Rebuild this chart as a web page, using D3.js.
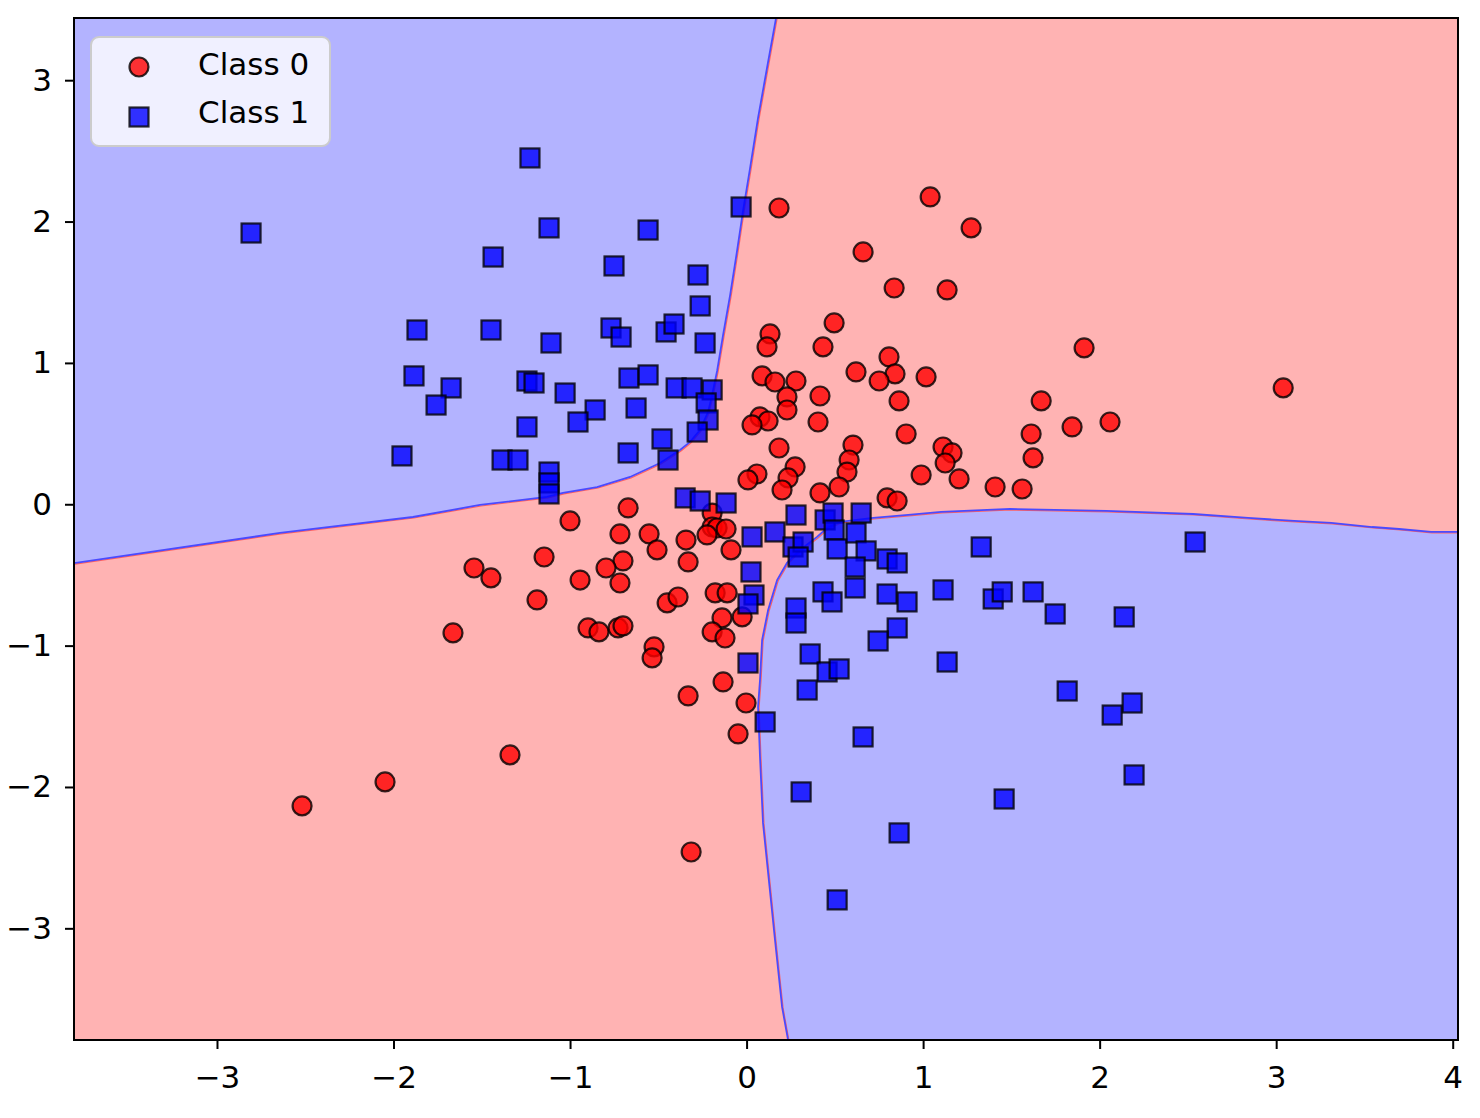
<!DOCTYPE html>
<html>
<head>
<meta charset="utf-8">
<script src="https://cdn.jsdelivr.net/npm/d3@7"></script>
<style>
  html, body { margin: 0; padding: 0; background: #ffffff; }
  svg { display: block; }
  text { font-family: "DejaVu Sans", sans-serif; }
</style>
</head>
<body>
<svg id="chart" width="1480" height="1118"></svg>
<script>
// ---------------- data ----------------
const classLabels = ["Class 0", "Class 1"];
const xTicks = [-3, -2, -1, 0, 1, 2, 3, 4];
const yTicks = [-3, -2, -1, 0, 1, 2, 3];
const xDomain = [-3.81, 4.03];
const yDomain = [-3.79, 3.44];

// Class 0 (circles)
const class0X = [0.184,1.040,1.272,0.660,0.836,1.136,0.133,0.116,0.496,0.433,1.912,0.088,0.161,0.280,0.229,0.229,0.416,0.620,0.807,0.841,0.751,1.017,0.864,3.040,1.669,1.844,2.059,1.612,0.904,0.076,0.122,0.031,0.405,0.184,0.603,0.581,0.569,0.524,0.275,0.235,0.201,0.059,0.008,0.416,0.796,0.853,1.113,1.164,1.125,0.989,1.204,1.408,1.561,1.623,
  -0.671,-1.000,-0.717,-0.552,-0.507,-1.147,-0.700,-0.796,-0.717,-1.544,-1.448,-0.943,-1.187,-0.450,-0.388,-0.898,-0.836,-0.728,-0.700,-0.524,-0.535,-1.663,-1.340,-2.048,-2.518,-0.314,-0.343,-0.331,-0.195,-0.195,-0.167,-0.116,-0.224,-0.088,-0.178,-0.110,-0.139,-0.025,-0.195,-0.122,-0.133,-0.331,-0.003,-0.048];
const class0Y = [2.096,2.174,1.955,1.785,1.530,1.516,1.205,1.113,1.283,1.113,1.106,0.908,0.865,0.872,0.759,0.667,0.766,0.936,1.042,0.922,0.872,0.901,0.731,0.823,0.731,0.547,0.582,0.497,0.497,0.618,0.589,0.561,0.582,0.398,0.419,0.313,0.228,0.122,0.264,0.186,0.101,0.214,0.172,0.080,0.045,0.023,0.405,0.363,0.292,0.207,0.179,0.122,0.108,0.328,
  -0.026,-0.118,-0.210,-0.210,-0.323,-0.373,-0.401,-0.451,-0.557,-0.451,-0.521,-0.536,-0.677,-0.698,-0.656,-0.875,-0.903,-0.875,-0.861,-1.009,-1.087,-0.910,-1.773,-1.964,-2.134,-2.460,-0.253,-0.408,-0.062,-0.161,-0.168,-0.175,-0.217,-0.323,-0.627,-0.627,-0.804,-0.797,-0.903,-0.946,-1.257,-1.356,-1.406,-1.625];

// Class 1 (squares)
const class1X = [-1.227,-2.807,-0.031,-1.119,-0.558,-1.436,-0.751,-0.275,-1.867,-1.448,-0.263,-0.768,-0.711,-0.456,-0.411,-1.108,-0.235,-1.884,-1.674,-1.759,-1.244,-1.204,-1.028,-0.858,-0.955,-0.666,-0.558,-0.399,-0.309,-0.195,-0.626,-0.229,-0.218,-1.244,-0.479,-0.280,-1.952,-1.385,-1.295,-1.119,-1.119,-1.119,-0.671,-0.445,-0.348,-0.263,-0.116,
  0.280,0.445,0.490,0.649,0.031,0.161,0.263,0.320,0.292,0.496,0.513,0.620,0.677,0.615,0.615,0.796,0.853,0.025,0.042,0.008,0.433,0.484,0.280,0.280,0.796,0.909,1.113,0.853,0.745,0.360,0.456,0.524,0.343,0.008,1.136,0.105,0.660,0.309,0.864,0.513,2.541,1.329,1.397,1.448,1.623,1.748,2.139,1.816,2.184,2.071,2.195,1.459];
const class1Y = [2.450,1.919,2.103,1.955,1.940,1.749,1.686,1.622,1.233,1.233,1.403,1.247,1.183,1.219,1.275,1.141,1.141,0.908,0.823,0.702,0.872,0.858,0.787,0.667,0.582,0.893,0.915,0.823,0.823,0.809,0.681,0.717,0.596,0.547,0.462,0.511,0.342,0.313,0.313,0.228,0.151,0.073,0.363,0.313,0.045,0.023,0.009,
  -0.076,-0.111,-0.062,-0.062,-0.231,-0.196,-0.302,-0.267,-0.373,-0.182,-0.316,-0.203,-0.330,-0.444,-0.592,-0.387,-0.415,-0.479,-0.642,-0.705,-0.620,-0.691,-0.734,-0.840,-0.635,-0.691,-0.606,-0.875,-0.967,-1.059,-1.186,-1.165,-1.314,-1.123,-1.116,-1.540,-1.646,-2.035,-2.325,-2.799,-0.267,-0.302,-0.670,-0.620,-0.620,-0.776,-0.797,-1.321,-1.406,-1.491,-1.915,-2.085];

// Decision boundary (upper-left blue region edge, top -> left)
const boundaryUpperLeft = [[0.167,3.44],[0.116,3.088],[0.065,2.733],[0.020,2.379],[-0.020,2.075],[-0.054,1.792],[-0.093,1.481],[-0.133,1.198],[-0.167,0.943],[-0.195,0.773],[-0.218,0.653],[-0.263,0.526],[-0.320,0.441],[-0.377,0.384],[-0.490,0.292],[-0.660,0.193],[-0.847,0.122],[-1.040,0.080],[-1.130,0.052],[-1.510,-0.005],[-1.890,-0.090],[-2.643,-0.203],[-3.81,-0.416]];
// lower-right blue region edge, bottom -> right
const boundaryLowerRight = [[0.235,-3.79],[0.201,-3.556],[0.161,-3.082],[0.122,-2.608],[0.093,-2.254],[0.076,-1.787],[0.065,-1.434],[0.076,-1.243],[0.088,-0.960],[0.122,-0.748],[0.173,-0.536],[0.229,-0.415],[0.303,-0.323],[0.399,-0.231],[0.456,-0.168],[0.530,-0.125],[0.717,-0.097],[0.915,-0.075],[1.102,-0.054],[1.493,-0.033],[2.037,-0.047],[2.530,-0.069],[2.841,-0.097],[3.102,-0.118],[3.312,-0.132],[3.544,-0.161],[3.697,-0.175],[3.878,-0.196],[4.03,-0.196]];

// ---------------- drawing ----------------
const plot = { left: 74, right: 1458, top: 18, bottom: 1040 };
const svg = d3.select("#chart");
svg.append("rect").attr("width", 1480).attr("height", 1118).attr("fill", "#ffffff");

const x = d3.scaleLinear().domain(xDomain).range([plot.left, plot.right]);
const y = d3.scaleLinear().domain(yDomain).range([plot.bottom, plot.top]);

const regionColor = ["#ffb3b3", "#b3b3ff"];

svg.append("defs").append("clipPath").attr("id", "plotclip")
  .append("rect").attr("x", plot.left).attr("y", plot.top)
  .attr("width", plot.right - plot.left).attr("height", plot.bottom - plot.top);

const g = svg.append("g").attr("clip-path", "url(#plotclip)");

// red background region
g.append("rect").attr("x", plot.left).attr("y", plot.top)
  .attr("width", plot.right - plot.left).attr("height", plot.bottom - plot.top)
  .attr("fill", regionColor[0]);

const line = d3.line().x(d => x(d[0])).y(d => y(d[1]));

const polyA = [[xDomain[0], yDomain[1]]].concat(boundaryUpperLeft);
const polyB = boundaryLowerRight.concat([[xDomain[1], yDomain[0]]]);

g.append("path").attr("d", line(polyA) + "Z").attr("fill", regionColor[1]);
g.append("path").attr("d", line(polyB) + "Z").attr("fill", regionColor[1]);

// boundary edges
[boundaryUpperLeft, boundaryLowerRight].forEach(b => {
  g.append("path").attr("d", line(b)).attr("fill", "none")
    .attr("stroke", "#ff6060").attr("stroke-width", 1.2)
    .attr("transform", "translate(1,1)");
  g.append("path").attr("d", line(b)).attr("fill", "none")
    .attr("stroke", "#4a4aff").attr("stroke-width", 1.8);
});

// points
const pts0 = class0X.map((v, i) => [v, class0Y[i]]);
const pts1 = class1X.map((v, i) => [v, class1Y[i]]);
const markerR = 9.5, sq = 19;

g.append("g").selectAll("circle").data(pts0).join("circle")
  .attr("cx", d => x(d[0])).attr("cy", d => y(d[1])).attr("r", markerR)
  .attr("fill", "red").attr("fill-opacity", 0.8)
  .attr("stroke", "black").attr("stroke-opacity", 0.8).attr("stroke-width", 2.2);

g.append("g").selectAll("rect").data(pts1).join("rect")
  .attr("x", d => x(d[0]) - sq / 2).attr("y", d => y(d[1]) - sq / 2)
  .attr("width", sq).attr("height", sq)
  .attr("fill", "blue").attr("fill-opacity", 0.8)
  .attr("stroke", "black").attr("stroke-opacity", 0.8).attr("stroke-width", 2.2);

// axes
const fontSize = 31;
const xAxis = d3.axisBottom(x).tickValues(xTicks).tickSizeOuter(0).tickSize(9).tickPadding(17)
  .tickFormat(d3.format("d"));
const yAxis = d3.axisLeft(y).tickValues(yTicks).tickSizeOuter(0).tickSize(9).tickPadding(13)
  .tickFormat(d3.format("d"));

const gx = svg.append("g").attr("transform", `translate(0,${plot.bottom})`).call(xAxis);
const gy = svg.append("g").attr("transform", `translate(${plot.left},0)`).call(yAxis);
[gx, gy].forEach(a => {
  a.select(".domain").remove();
  a.selectAll(".tick line").attr("stroke", "#000").attr("stroke-width", 2);
  a.selectAll(".tick text").attr("fill", "#000").attr("font-size", fontSize)
    .attr("font-family", "DejaVu Sans");
});

// spines
svg.append("rect").attr("x", plot.left).attr("y", plot.top)
  .attr("width", plot.right - plot.left).attr("height", plot.bottom - plot.top)
  .attr("fill", "none").attr("stroke", "#000").attr("stroke-width", 2);

// legend
const lg = svg.append("g");
lg.append("rect").attr("x", 91).attr("y", 37).attr("width", 239).attr("height", 109)
  .attr("rx", 8).attr("fill", "#ffffff").attr("fill-opacity", 0.8)
  .attr("stroke", "#cccccc").attr("stroke-width", 2);
lg.append("circle").attr("cx", 139).attr("cy", 67).attr("r", markerR)
  .attr("fill", "red").attr("fill-opacity", 0.8)
  .attr("stroke", "black").attr("stroke-opacity", 0.8).attr("stroke-width", 2.2);
lg.append("rect").attr("x", 139 - sq / 2).attr("y", 117 - sq / 2).attr("width", sq).attr("height", sq)
  .attr("fill", "blue").attr("fill-opacity", 0.8)
  .attr("stroke", "black").attr("stroke-opacity", 0.8).attr("stroke-width", 2.2);
lg.selectAll("text.lbl").data(classLabels).join("text").attr("class", "lbl")
  .attr("x", 198).attr("y", (d, i) => 75 + i * 48)
  .attr("font-size", fontSize).attr("fill", "#000").text(d => d);
</script>
</body>
</html>
